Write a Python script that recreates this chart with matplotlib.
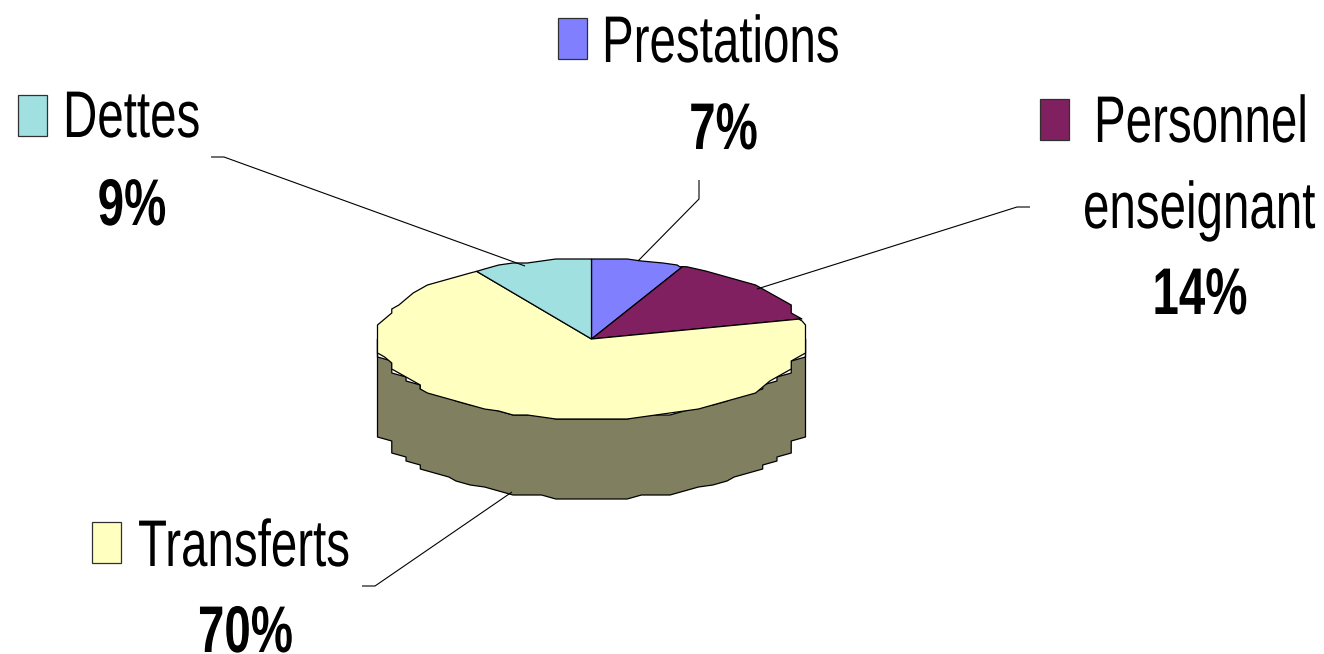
import numpy as np
import matplotlib
matplotlib.use('Agg')
import matplotlib.pyplot as plt
from matplotlib.patches import Rectangle
from matplotlib.patheffects import AbstractPathEffect
from matplotlib.path import Path
from matplotlib.text import Text
from matplotlib.transforms import Affine2D, Bbox, IdentityTransform

CATEGORIES = ['Prestations', 'Personnel\nenseignant', 'Transferts', 'Dettes']
PERCENTS = [7, 14, 70, 9]
COLORS = ['#8080ff', '#802060', '#ffffc0', '#a0e0e0']
SIDE_COLOR = '#808060'

W, H = 1324, 654
FONT = 'Liberation Sans'
FONT_SIZE = 47.5
NARROW = 0.72


class Condense(AbstractPathEffect):
    """Squeeze text horizontally around its anchor, the original font is a narrow Arial."""

    def __init__(self, x0):
        super().__init__()
        self.squeeze = Affine2D().translate(-x0, 0).scale(NARROW, 1).translate(x0, 0)

    def draw_path(self, renderer, gc, tpath, affine, rgbFace=None):
        renderer.draw_path(gc, tpath, affine + self.squeeze, rgbFace)


class Facet(AbstractPathEffect):
    """Snap curves to a coarse grid, to get the bumpy outline of the low-res original."""

    def __init__(self, origin, dx=214 / 15, dy=4):
        super().__init__()
        self.origin = np.asarray(origin)
        self.step = np.array([dx, dy])

    def draw_path(self, renderer, gc, tpath, affine, rgbFace=None):
        for poly in tpath.transformed(affine).to_polygons():
            snapped = np.round((poly - self.origin) / self.step) * self.step + self.origin
            # the ends of long straight edges (slice borders) stay exact
            long_edge = np.hypot(*(poly[1:] - poly[:-1]).T) > 40
            snapped[:-1][long_edge] = poly[:-1][long_edge]
            snapped[1:][long_edge] = poly[1:][long_edge]
            keep = np.r_[True, np.any(snapped[1:] != snapped[:-1], axis=1)]
            pts = snapped[keep]
            if len(pts) > 1 and np.all(pts[0] == pts[-1]):
                pts = pts[:-1]
            # cut the stair corners, long straight edges stay as they are
            out = []
            for a, b in zip(pts, np.roll(pts, -1, axis=0)):
                if np.hypot(*(b - a)) > 40:
                    out += [a, b]
                else:
                    out.append((a + b) / 2)
            renderer.draw_path(gc, Path(np.array(out + [out[0]]), closed=True),
                               IdentityTransform(), rgbFace)


class NarrowText(Text):
    def get_window_extent(self, renderer=None, dpi=None):
        bb = super().get_window_extent(renderer, dpi)
        x0 = self.get_transform().transform(self.get_position())[0]
        return Bbox.from_extents(x0 + (bb.x0 - x0) * NARROW, bb.y0,
                                 x0 + (bb.x1 - x0) * NARROW, bb.y1)


fig = plt.figure(figsize=(W / 100, H / 100), dpi=100, facecolor='white')

# pie axes: one y unit is the squashed radius, and the side is one unit deep
ax_pie = fig.add_axes([377.5 / W, 1 - 499 / H, 428 / W, 240 / H])
wedges, _ = ax_pie.pie(PERCENTS, colors=COLORS, startangle=90, counterclock=False,
                       wedgeprops={'edgecolor': 'black', 'linewidth': 0.9})
ax_pie.set_aspect('auto')
ax_pie.set_xlim(-1, 1)
ax_pie.set_ylim(-2, 1)
ax_pie.axis('off')

x = np.cos(np.linspace(np.pi, 2 * np.pi, 200))
lower = -np.sqrt(np.clip(1 - x ** 2, 0, None))
side = ax_pie.fill_between(x, lower, lower - 1, color=SIDE_COLOR, zorder=0.5,
                           edgecolor='black', linewidth=0.9, clip_on=False)

facet = Facet(ax_pie.transData.transform((0, 0)))
side.set_path_effects([facet])
for wedge in wedges:
    wedge.set_path_effects([facet])

# overlay in pixel coordinates for the labels and the leader lines
ax = fig.add_axes([0, 0, 1, 1], facecolor='none')
ax.set_xlim(0, W)
ax.set_ylim(H, 0)
ax.axis('off')


def leader(xs, ys):
    ax.plot(xs, ys, color='black', lw=0.8, solid_capstyle='butt')


def key(x0, y0, color):
    ax.add_patch(Rectangle((x0, y0), 29, 41, facecolor=color,
                           edgecolor='#303030', linewidth=0.9))


def add_text(x0, y0, text, ha, weight='normal'):
    t = NarrowText(x0, y0, text, ha=ha, va='baseline', fontsize=FONT_SIZE, family=FONT,
                   fontweight=weight, color='black', transform=ax.transData)
    t.set_path_effects([Condense(ax.transData.transform((x0, y0))[0])])
    ax.add_artist(t)


def name_text(x0, y0, text):
    add_text(x0, y0, text, 'left')


def pct_text(x0, y0, value):
    add_text(x0, y0, f'{value}%', 'center', 'bold')


leader([699, 699, 638], [180, 199, 261])
leader([1030, 1017, 757], [207, 207, 289])
leader([362, 375, 512], [586, 586, 492])
leader([211, 224, 525], [157, 157, 266])

prest, pers, transf, dettes = CATEGORIES
pers_1, pers_2 = pers.split('\n')

key(558, 18, COLORS[0])
name_text(602, 62, prest)
pct_text(723.5, 149, PERCENTS[0])

key(1040, 99, COLORS[1])
name_text(1094, 142, pers_1)
name_text(1083, 228, pers_2)
pct_text(1200, 314, PERCENTS[1])

key(92, 522, COLORS[2])
name_text(138, 566, transf)
pct_text(245.5, 652, PERCENTS[2])

key(18, 95, COLORS[3])
name_text(63, 137, dettes)
pct_text(132, 225, PERCENTS[3])

fig.savefig('out.png', dpi=100)
